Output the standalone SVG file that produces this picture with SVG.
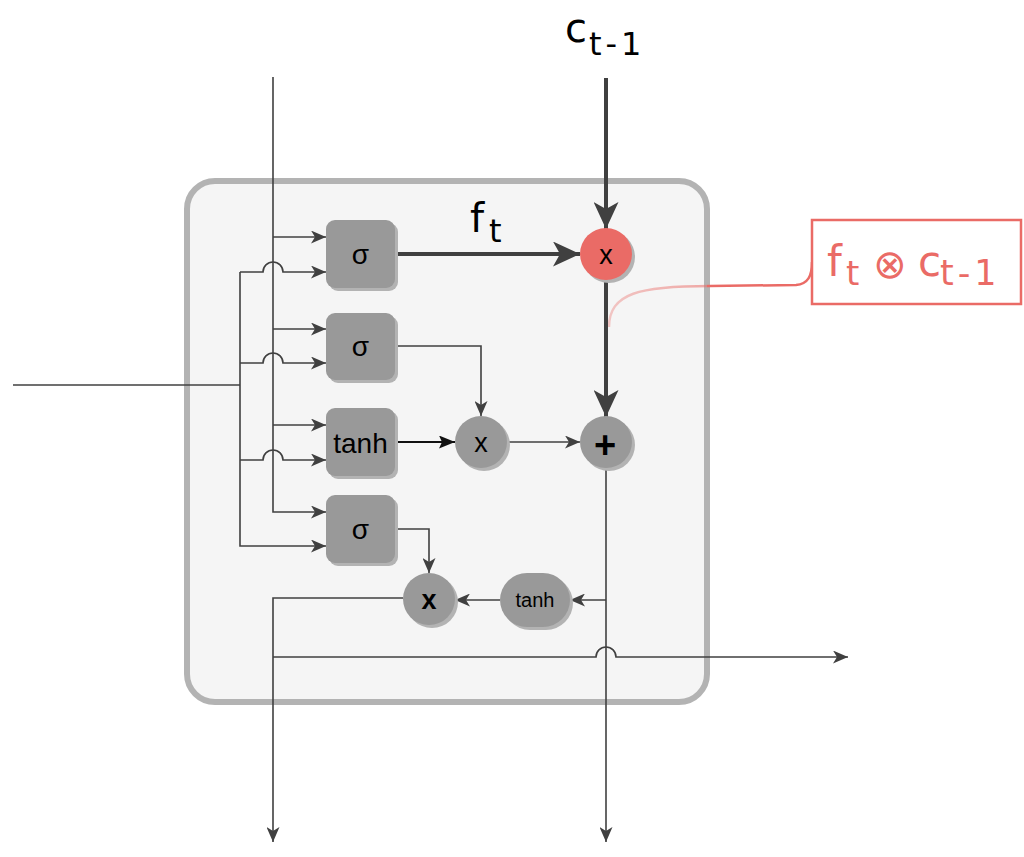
<svg xmlns="http://www.w3.org/2000/svg" width="1024" height="857" viewBox="0 0 1024 857">
<style>
.ln{fill:none;stroke:#404040;stroke-width:1.6}
.thick{fill:none;stroke:#404040;stroke-width:4}
.shape{fill:#999999}
.shadow{fill:#b3b3b3}
.lbl{font-family:"Liberation Sans",Arial,sans-serif;fill:#000;text-anchor:middle}
.math{font-family:"DejaVu Sans",Verdana,sans-serif}
</style>
<defs>
<marker id="arr" viewBox="0 0 15 13" markerWidth="15" markerHeight="13" refX="15" refY="6.5" orient="auto" markerUnits="userSpaceOnUse">
<path d="M0,0 L15,6.5 L0,13 L4,6.5 z" fill="#404040"/>
</marker>
<marker id="arrK" viewBox="0 0 16 13" markerWidth="16" markerHeight="13" refX="16" refY="6.5" orient="auto" markerUnits="userSpaceOnUse">
<path d="M0,0 L16,6.5 L0,13 L3,6.5 z" fill="#111"/>
</marker>
<marker id="arrB" viewBox="0 0 27 25" markerWidth="27" markerHeight="25" refX="27" refY="12.5" orient="auto" markerUnits="userSpaceOnUse">
<path d="M0,0 L27,12.5 L0,25 L7,12.5 z" fill="#404040"/>
</marker>
<linearGradient id="redfade" gradientUnits="userSpaceOnUse" x1="609" y1="0" x2="1024" y2="0">
<stop offset="0" stop-color="#EA6B66" stop-opacity="0.35"/>
<stop offset="0.235" stop-color="#EA6B66" stop-opacity="0.55"/>
<stop offset="0.237" stop-color="#EA6B66" stop-opacity="1"/>
<stop offset="1" stop-color="#EA6B66" stop-opacity="1"/>
</linearGradient>
</defs>

<g id="cell">
<rect x="187" y="181" width="520" height="521" rx="28" ry="28" fill="#f5f5f5" stroke="#b3b3b3" stroke-width="6"/>
</g>

<g id="annotation-link">
<path d="M609,327 C609,293 640,286 710,286 L796,285 C808,284 812,276 812,262" fill="none" stroke="url(#redfade)" stroke-width="2.5"/>
</g>

<g id="connectors">
<path class="ln" d="M273,77 V512 H326" marker-end="url(#arr)"/>
<path class="ln" d="M273,237 H326" marker-end="url(#arr)"/>
<path class="ln" d="M273,329 H326" marker-end="url(#arr)"/>
<path class="ln" d="M273,425 H326" marker-end="url(#arr)"/>
<path class="ln" d="M13,385 H240"/>
<path class="ln" d="M240,272 V546 H326" marker-end="url(#arr)"/>
<path class="ln" d="M240,272 H263 A10,10 0 0 1 283,272 H326" marker-end="url(#arr)"/>
<path class="ln" d="M240,363 H263 A10,10 0 0 1 283,363 H326" marker-end="url(#arr)"/>
<path class="ln" d="M240,460 H263 A10,10 0 0 1 283,460 H326" marker-end="url(#arr)"/>
<path class="thick" d="M397,254 H580" marker-end="url(#arrB)"/>
<path class="thick" d="M606,78 V229" marker-end="url(#arrB)"/>
<path class="thick" d="M606,281 V417" marker-end="url(#arrB)"/>
<path class="ln" d="M396,346 H481 V416" marker-end="url(#arr)"/>
<path d="M396,442 H455" fill="none" stroke="#111" stroke-width="1.8" marker-end="url(#arrK)"/>
<path class="ln" d="M507,442 H580" marker-end="url(#arr)"/>
<path class="ln" d="M606,468 V842" marker-end="url(#arr)"/>
<path class="ln" d="M606,600 H570" marker-end="url(#arr)"/>
<path class="ln" d="M500,600 H455" marker-end="url(#arr)"/>
<path class="ln" d="M396,529 H429 V573" marker-end="url(#arr)"/>
<path class="ln" d="M403,598 H273 V842" marker-end="url(#arr)"/>
<path class="ln" d="M273,657 H596 A10,10 0 0 1 616,657 H848" marker-end="url(#arr)"/>
</g>

<g id="forget-gate">
<rect class="shadow" x="329" y="223" width="69" height="68" rx="9"/>
<rect class="shape" x="326" y="220" width="69" height="68" rx="9"/>
<text class="lbl" x="360.5" y="264" font-size="28">σ</text>
</g>
<g id="input-gate">
<rect class="shadow" x="329" y="316" width="69" height="67" rx="9"/>
<rect class="shape" x="326" y="313" width="69" height="67" rx="9"/>
<text class="lbl" x="360.5" y="356" font-size="28">σ</text>
</g>
<g id="candidate">
<rect class="shadow" x="329" y="411" width="69" height="68" rx="9"/>
<rect class="shape" x="326" y="408" width="69" height="68" rx="9"/>
<text class="lbl" x="360.5" y="453" font-size="28">tanh</text>
</g>
<g id="output-gate">
<rect class="shadow" x="329" y="498" width="69" height="68" rx="9"/>
<rect class="shape" x="326" y="495" width="69" height="68" rx="9"/>
<text class="lbl" x="360.5" y="539" font-size="28">σ</text>
</g>

<g id="forget-mult">
<circle cx="609" cy="257" r="26" class="shadow"/>
<circle cx="606" cy="254" r="26" fill="#EA6B66"/>
<text class="lbl" x="606" y="264" font-size="27">x</text>
</g>
<g id="input-mult">
<circle cx="484" cy="445" r="26" class="shadow"/>
<circle cx="481" cy="442" r="26" class="shape"/>
<text class="lbl" x="481" y="452" font-size="27">x</text>
</g>
<g id="add">
<circle cx="609" cy="445" r="26" class="shadow"/>
<circle cx="606" cy="442" r="26" class="shape"/>
<text class="lbl" x="605" y="458" font-size="38" font-weight="bold">+</text>
</g>
<g id="cell-tanh">
<rect class="shadow" x="503" y="576" width="70" height="54" rx="27"/>
<rect class="shape" x="500" y="573" width="70" height="54" rx="27"/>
<text class="lbl" x="535" y="607" font-size="20">tanh</text>
</g>
<g id="output-mult">
<circle cx="432" cy="602" r="26" class="shadow"/>
<circle cx="429" cy="599" r="26" class="shape"/>
<text class="lbl" x="429" y="609" font-size="27" font-weight="bold">x</text>
</g>

<g id="label-c-prev">
<text class="math" x="565" y="42" font-size="40" fill="#000">c<tspan x="589" y="55" font-size="32" letter-spacing="4">t-1</tspan></text>
</g>
<g id="label-ft">
<text class="math" x="470" y="232" font-size="40" fill="#000">f<tspan x="489" y="242" font-size="32">t</tspan></text>
</g>
<g id="annotation">
<rect x="812" y="220" width="209" height="84" fill="#ffffff" stroke="#EA6B66" stroke-width="2.5"/>
<text class="math" x="827" y="276" font-size="42" fill="#EA6B66">f<tspan x="846" y="285" font-size="34">t</tspan><tspan x="873" y="278" font-size="40">⊗</tspan><tspan x="918" y="276" font-size="42">c</tspan><tspan x="940" y="285" font-size="35" letter-spacing="4">t-1</tspan></text>
</g>
</svg>
